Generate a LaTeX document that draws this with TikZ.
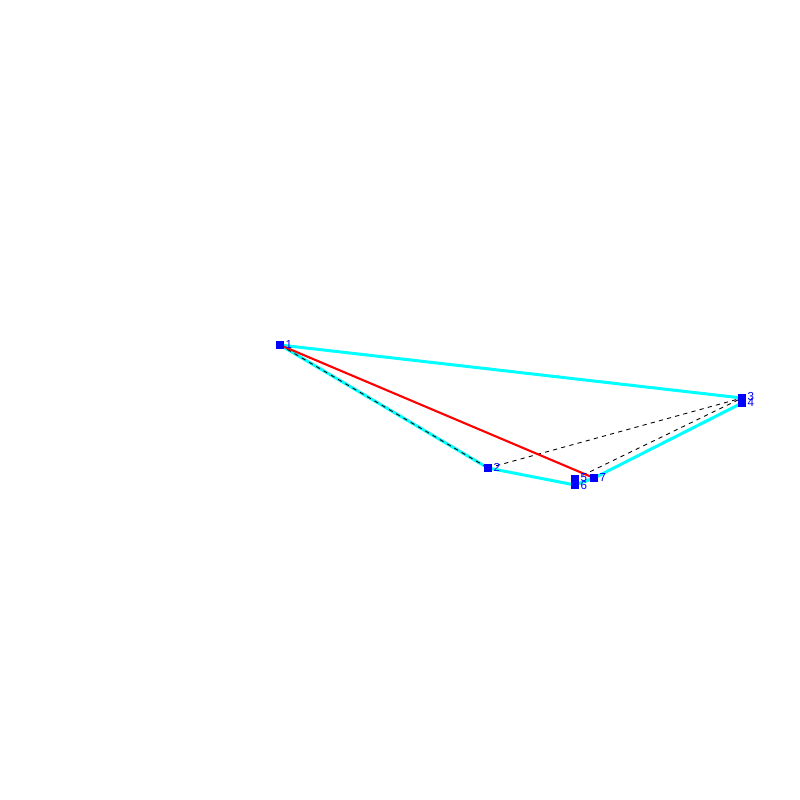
\documentclass[tikz,border=0pt]{standalone}
\usepackage{fontspec}
\setmainfont{Liberation Sans}
\definecolor{cyn}{rgb}{0,1,1}
\begin{document}
\begin{tikzpicture}[x=0.01cm,y=-0.01cm,
  pt/.style={draw=none,fill=blue,minimum size=0.075cm,inner sep=0pt},
  lb/.style={text=blue,font=\fontsize{3.3}{3.3}\selectfont,inner sep=0pt,anchor=west},
  edge/.style={cyn,line width=0.85pt},
  hid/.style={black,line width=0.25pt,dash pattern=on 1.2pt off 1.2pt},
  cut/.style={red,line width=0.6pt}]
  \useasboundingbox (0,0) rectangle (800,800);
  \coordinate (p1) at (280,345);
  \coordinate (p2) at (488,468);
  \coordinate (p3) at (742,398);
  \coordinate (p4) at (742,403);
  \coordinate (p5) at (575,479);
  \coordinate (p6) at (575,485);
  \coordinate (p7) at (594,478);
  % contorno
  \draw[edge] (p1)--(p3); \draw[edge] (p1)--(p2); \draw[edge] (p2)--(p6);
  \draw[edge] (p6)--(p7); \draw[edge] (p7)--(p4);
  % aristas ocultas
  \draw[hid] (p1)--(p2); \draw[hid] (p2)--(p3); \draw[hid] (p5)--(p3);
  \draw[cut] (p1)--(p7);
  % vertices
  \foreach \i in {1,...,7} \node[pt] (n\i) at (p\i) {};
  \node[lb] (l1) at (285,345) {1};
  \node[lb] (l2) at (493,467) {2};
  \node[lb] (l3) at (747,397) {3};
  \node[lb] (l4) at (747,403) {4};
  \node[lb] (l5) at (580,478) {5};
  \node[lb] (l6) at (580,485) {6};
  \node[lb] (l7) at (599,478) {7};
\end{tikzpicture}
\end{document}
